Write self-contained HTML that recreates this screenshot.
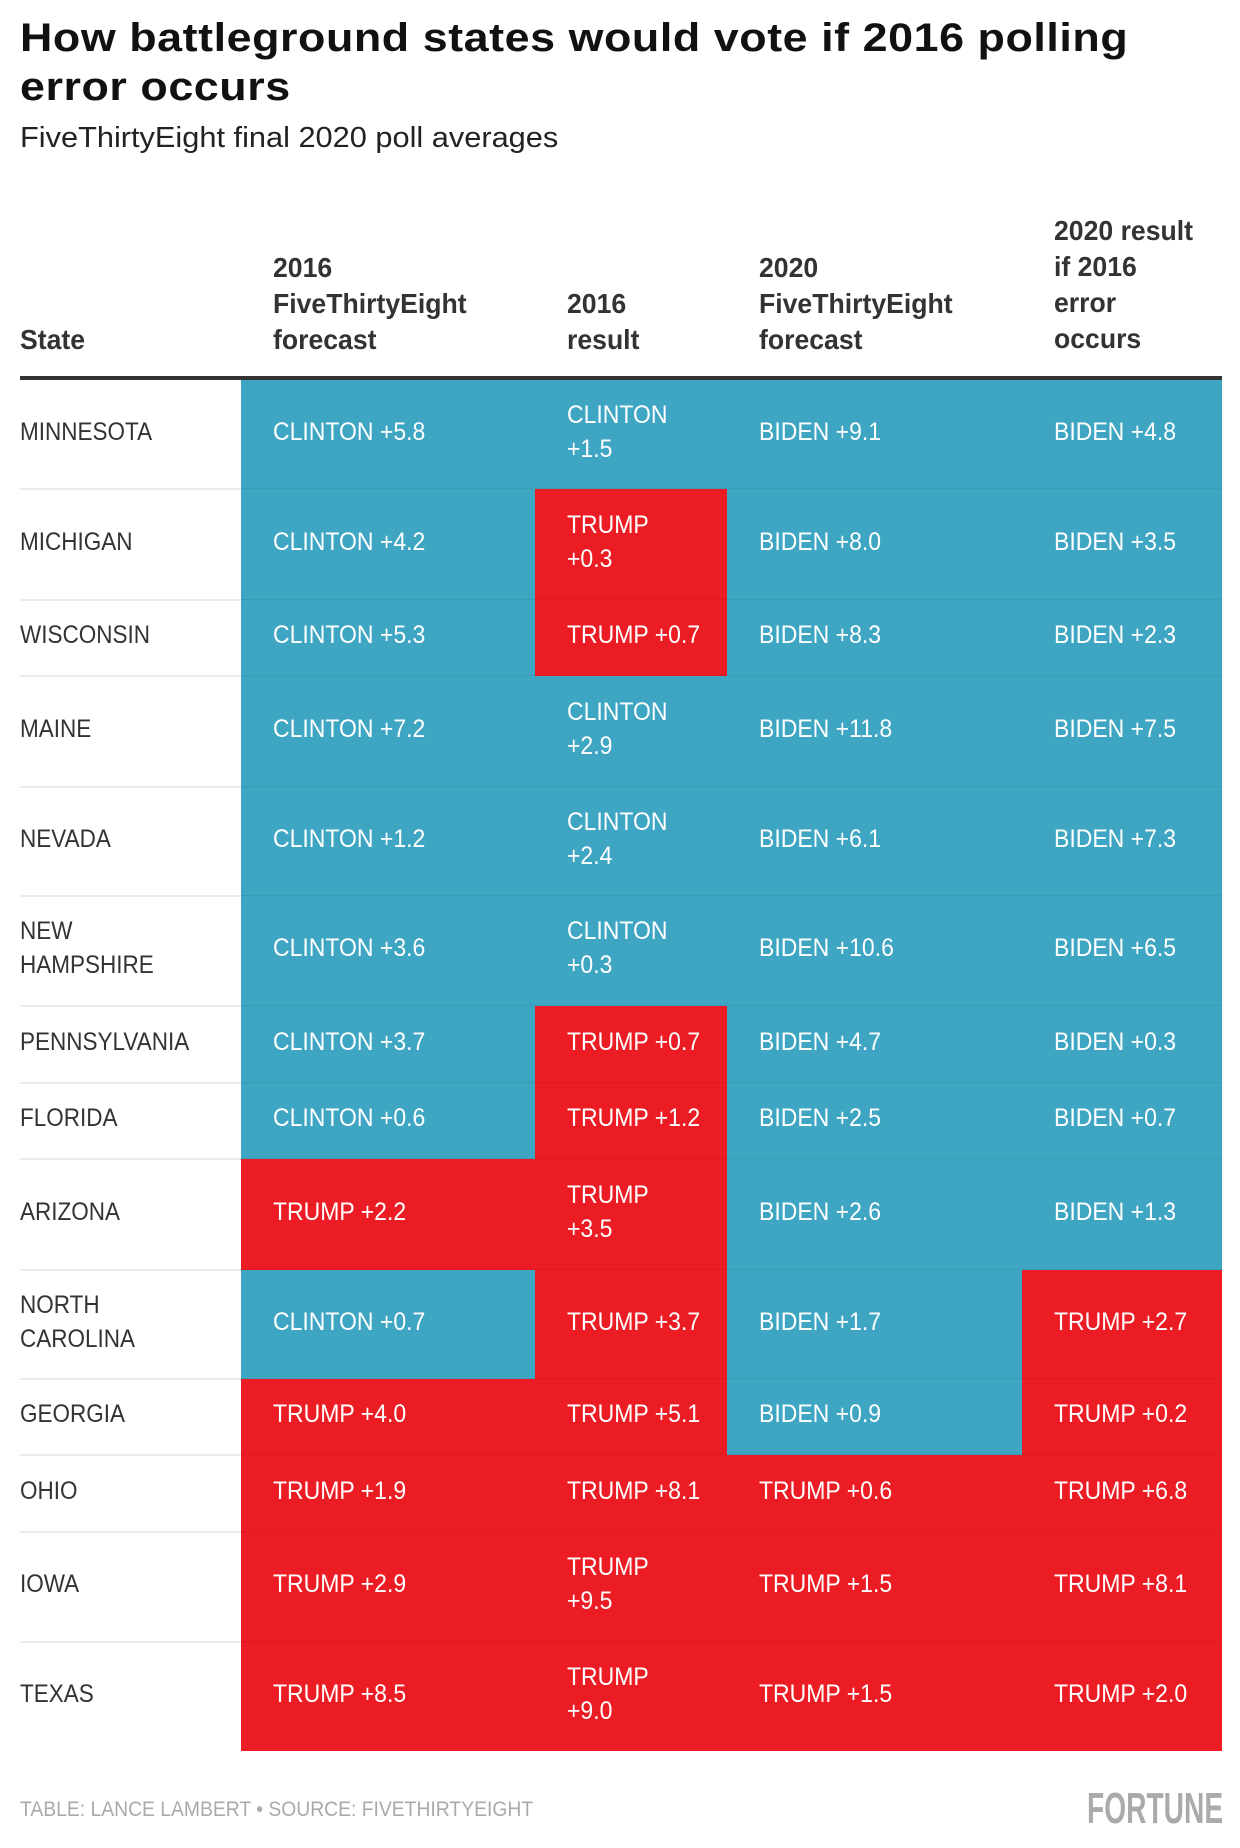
<!DOCTYPE html>
<html><head><meta charset="utf-8">
<style>
body{margin:0;background:#fff;}
#wrap{position:relative;width:1240px;height:1848px;overflow:hidden;font-family:"Liberation Sans",sans-serif;}
.t{position:absolute;white-space:nowrap;transform-origin:0 0;}
#title{left:20px;top:14px;font-weight:bold;font-size:40px;line-height:49px;color:#111;letter-spacing:0.5px;transform:scaleX(1.12);}
#sub{left:20px;top:122px;font-size:29px;color:#222;transform:scaleX(1.06);}
.hd{position:absolute;font-weight:bold;font-size:28px;line-height:36px;color:#333;transform:scaleX(0.95);transform-origin:0 0;white-space:nowrap;}
.cell{position:absolute;}
.lab{position:absolute;font-size:25px;line-height:34px;color:#fff;white-space:pre;transform:scaleX(0.92);transform-origin:0 0;}
.st{position:absolute;font-size:25px;line-height:34px;color:#333;white-space:pre;transform:scaleX(0.9);transform-origin:0 0;}
.div{position:absolute;height:2px;}
</style></head><body>
<div id="wrap">
<div class="t" id="title">How battleground states would vote if 2016 polling<br>error occurs</div>
<div class="t" id="sub">FiveThirtyEight final 2020 poll averages</div>
<div class="hd" style="left:20px;top:322px">State</div>
<div class="hd" style="left:273px;top:250px">2016<br>FiveThirtyEight<br>forecast</div>
<div class="hd" style="left:567px;top:286px">2016<br>result</div>
<div class="hd" style="left:759px;top:250px">2020<br>FiveThirtyEight<br>forecast</div>
<div class="hd" style="left:1054px;top:213px">2020 result<br>if 2016<br>error<br>occurs</div>
<div style="position:absolute;left:20px;top:376px;width:1202px;height:4px;background:#333"></div>
<div id="rows"></div>
<div class="t" style="left:20px;top:1798px;font-size:21px;color:#aaa;transform:scaleX(0.92)">TABLE: LANCE LAMBERT • SOURCE: FIVETHIRTYEIGHT</div>
<div class="t" style="left:1087px;top:1784px;font-size:44px;font-weight:bold;color:#aaa;transform:scaleX(0.64)">FORTUNE</div>
</div>
<script>
const states=["MINNESOTA","MICHIGAN","WISCONSIN","MAINE","NEVADA","NEW\nHAMPSHIRE","PENNSYLVANIA","FLORIDA","ARIZONA","NORTH\nCAROLINA","GEORGIA","OHIO","IOWA","TEXAS"];
const forecast2016=["CLINTON +5.8","CLINTON +4.2","CLINTON +5.3","CLINTON +7.2","CLINTON +1.2","CLINTON +3.6","CLINTON +3.7","CLINTON +0.6","TRUMP +2.2","CLINTON +0.7","TRUMP +4.0","TRUMP +1.9","TRUMP +2.9","TRUMP +8.5"];
const result2016=["CLINTON\n+1.5","TRUMP\n+0.3","TRUMP +0.7","CLINTON\n+2.9","CLINTON\n+2.4","CLINTON\n+0.3","TRUMP +0.7","TRUMP +1.2","TRUMP\n+3.5","TRUMP +3.7","TRUMP +5.1","TRUMP +8.1","TRUMP\n+9.5","TRUMP\n+9.0"];
const forecast2020=["BIDEN +9.1","BIDEN +8.0","BIDEN +8.3","BIDEN +11.8","BIDEN +6.1","BIDEN +10.6","BIDEN +4.7","BIDEN +2.5","BIDEN +2.6","BIDEN +1.7","BIDEN +0.9","TRUMP +0.6","TRUMP +1.5","TRUMP +1.5"];
const ifError2020=["BIDEN +4.8","BIDEN +3.5","BIDEN +2.3","BIDEN +7.5","BIDEN +7.3","BIDEN +6.5","BIDEN +0.3","BIDEN +0.7","BIDEN +1.3","TRUMP +2.7","TRUMP +0.2","TRUMP +6.8","TRUMP +8.1","TRUMP +2.0"];
const rowBounds=[380,489,600,676,787,896,1006,1083,1159,1270,1379,1455,1532,1642,1751];
const cols=[{x:241,w:294,tx:273,d:forecast2016},{x:535,w:192,tx:567,d:result2016},{x:727,w:295,tx:759,d:forecast2020},{x:1022,w:200,tx:1054,d:ifError2020}];
const BLUE="#3ea5c3",RED="#ec1c24";
const rows=document.getElementById('rows');
states.forEach((s,i)=>{
  const y0=rowBounds[i],y1=rowBounds[i+1],h=y1-y0;
  cols.forEach((c,j)=>{
    const v=c.d[i];
    const cell=document.createElement('div');
    cell.className='cell';
    
    
    cell.style.cssText=`left:${c.x}px;top:${y0}px;width:${c.w}px;height:${h}px;background:${v.startsWith('TRUMP')?RED:BLUE}`;
    rows.appendChild(cell);
    const lab=document.createElement('div');
    lab.className='lab';
    
    
    lab.textContent=v;
    const n=v.split('\n').length;
    lab.style.left=c.tx+'px';
    lab.style.top=(y0+h/2-n*17-3)+'px';
    rows.appendChild(lab);
  });
  const st=document.createElement('div');
  st.className='st';
  
  
  st.textContent=s;
  const n=s.split('\n').length;
  st.style.left='20px';
  st.style.top=(y0+h/2-n*17-3)+'px';
  rows.appendChild(st);
  if(i<states.length-1){
    const d=document.createElement('div');
    d.className='div';
    
    
    d.style.cssText=`left:20px;top:${y1-1}px;width:221px;background:#ececec`;
    rows.appendChild(d);
    const d2=document.createElement('div');
    d2.className='div';
    
    
    d2.style.cssText=`left:241px;top:${y1-1}px;width:981px;background:rgba(0,0,0,0.06)`;
    rows.appendChild(d2);
  }
});
</script>
</body></html>
